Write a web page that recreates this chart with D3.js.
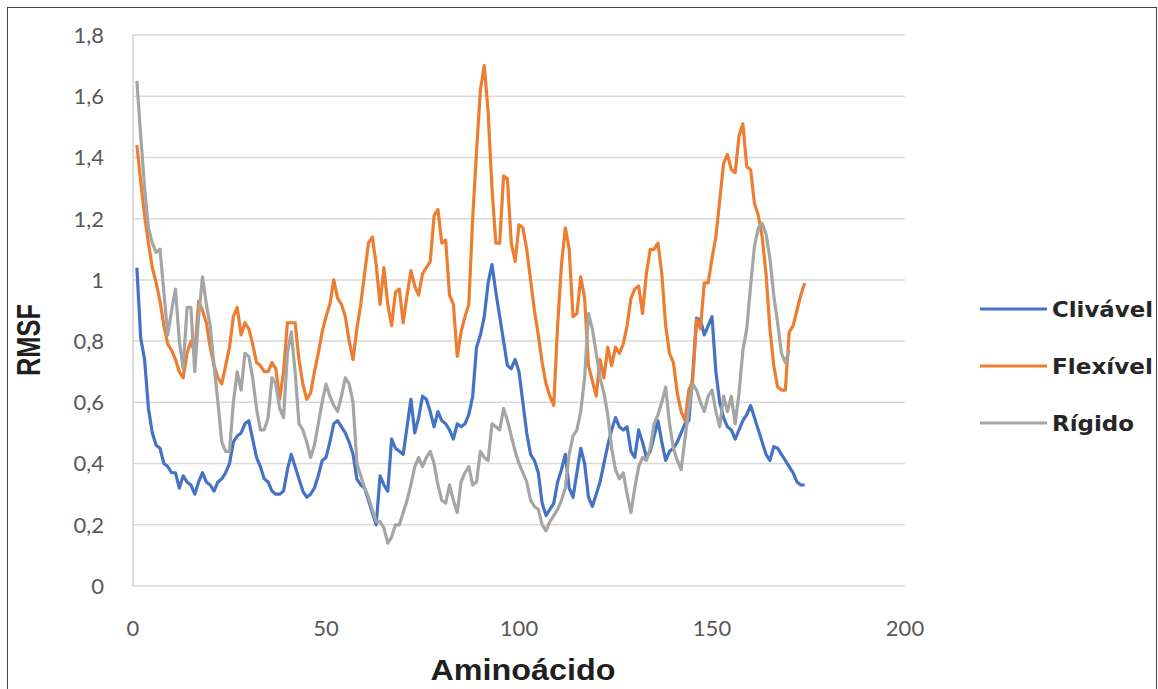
<!DOCTYPE html>
<html>
<head>
    <title>RMSF por aminoácido</title>
    <script src="https://d3js.org/d3.v7.min.js"></script>
    <style>
        body { margin: 0; background: #fff; }
        .tick-label { font-family: Lato, "Open Sans", sans-serif; font-size: 22px; fill: #595959; }
        .axis-title { font-family: "Liberation Sans Narrow", "Liberation Sans", sans-serif; font-weight: bold; fill: #1f1f1f; }
        .legend-label { font-family: "DejaVu Sans", sans-serif; font-weight: bold; font-size: 22px; fill: #262626; }
    </style>
</head>
<body>
    <div id="chart"></div>

    <script>
        // Tick labels
        const yTicks = [0, 0.2, 0.4, 0.6, 0.8, 1, 1.2, 1.4, 1.6, 1.8];
        const xTicks = [0, 50, 100, 150, 200];

        // Series names
        const seriesNames = ["Clivável", "Flexível", "Rígido"];

        // RMSF values per residue (residue 1..n)
        const clivavel = [
            1.04, 0.81, 0.74, 0.58, 0.50, 0.46, 0.45, 0.40, 0.39, 0.37,
            0.37, 0.32, 0.36, 0.34, 0.33, 0.30, 0.34, 0.37, 0.34, 0.33,
            0.31, 0.34, 0.35, 0.37, 0.40, 0.47, 0.49, 0.50, 0.53, 0.54,
            0.48, 0.42, 0.39, 0.35, 0.34, 0.31, 0.30, 0.30, 0.31, 0.38,
            0.43, 0.39, 0.35, 0.31, 0.29, 0.30, 0.32, 0.36, 0.41, 0.42,
            0.47, 0.53, 0.54, 0.52, 0.50, 0.47, 0.43, 0.35, 0.33, 0.32,
            0.28, 0.24, 0.20, 0.36, 0.33, 0.31, 0.48, 0.45, 0.44, 0.43,
            0.52, 0.61, 0.50, 0.55, 0.62, 0.61, 0.57, 0.52, 0.57, 0.54,
            0.53, 0.51, 0.48, 0.53, 0.52, 0.53, 0.56, 0.62, 0.78, 0.82,
            0.88, 0.99, 1.05, 0.96, 0.88, 0.80, 0.72, 0.71, 0.74, 0.70,
            0.60, 0.50, 0.43, 0.41, 0.37, 0.27, 0.23, 0.25, 0.27, 0.34,
            0.38, 0.43, 0.32, 0.29, 0.37, 0.45, 0.40, 0.29, 0.26, 0.30,
            0.34, 0.40, 0.46, 0.51, 0.55, 0.52, 0.51, 0.52, 0.44, 0.42,
            0.51, 0.47, 0.42, 0.44, 0.49, 0.54, 0.47, 0.41, 0.44, 0.45,
            0.47, 0.50, 0.53, 0.54, 0.69, 0.875, 0.87, 0.82, 0.85, 0.88,
            0.70, 0.60, 0.55, 0.52, 0.51, 0.48, 0.51, 0.54, 0.56, 0.59,
            0.55, 0.51, 0.47, 0.43, 0.41, 0.455, 0.45, 0.43, 0.41, 0.39,
            0.37, 0.34, 0.33, 0.33
        ];

        const flexivel = [
            1.44, 1.32, 1.21, 1.12, 1.04, 0.99, 0.93, 0.85, 0.79, 0.77,
            0.74, 0.70, 0.68, 0.76, 0.80, 0.76, 0.93, 0.90, 0.86, 0.78,
            0.72, 0.68, 0.66, 0.72, 0.78, 0.88, 0.91, 0.82, 0.86, 0.84,
            0.79, 0.73, 0.72, 0.70, 0.70, 0.73, 0.71, 0.61, 0.70, 0.86,
            0.86, 0.86, 0.74, 0.66, 0.61, 0.63, 0.70, 0.76, 0.83, 0.88,
            0.92, 1.00, 0.94, 0.92, 0.88, 0.80, 0.74, 0.84, 0.92, 1.02,
            1.12, 1.14, 1.05, 0.92, 1.04, 0.92, 0.85, 0.96, 0.97, 0.86,
            0.95, 1.03, 0.98, 0.95, 1.02, 1.04, 1.06, 1.21, 1.23, 1.12,
            1.13, 0.95, 0.92, 0.75, 0.83, 0.88, 0.92, 1.20, 1.42, 1.62,
            1.70, 1.55, 1.30, 1.12, 1.12, 1.34, 1.33, 1.12, 1.06, 1.18,
            1.17, 1.10, 1.00, 0.90, 0.82, 0.73, 0.66, 0.62, 0.59, 0.85,
            1.05, 1.17, 1.10, 0.88, 0.89, 1.01, 0.94, 0.72, 0.67, 0.62,
            0.74, 0.68, 0.78, 0.72, 0.78, 0.76, 0.79, 0.85, 0.94, 0.97,
            0.98, 0.89, 1.02, 1.10, 1.10, 1.12, 1.02, 0.85, 0.76, 0.73,
            0.63, 0.57, 0.54, 0.64, 0.67, 0.87, 0.84, 0.99, 0.99, 1.07,
            1.14, 1.26, 1.38, 1.41, 1.36, 1.35, 1.47, 1.51, 1.37, 1.36,
            1.25, 1.21, 1.14, 1.02, 0.84, 0.72, 0.65, 0.64, 0.64, 0.83,
            0.85, 0.90, 0.95, 0.99
        ];

        const rigido = [
            1.65, 1.47, 1.30, 1.17, 1.12, 1.09, 1.10, 0.96, 0.82, 0.90,
            0.97, 0.80, 0.71, 0.91, 0.91, 0.70, 0.88, 1.01, 0.92, 0.85,
            0.72, 0.60, 0.47, 0.44, 0.44, 0.60, 0.70, 0.64, 0.76, 0.75,
            0.68, 0.58, 0.51, 0.51, 0.55, 0.68, 0.66, 0.58, 0.55, 0.76,
            0.83, 0.70, 0.53, 0.51, 0.47, 0.42, 0.46, 0.53, 0.60, 0.66,
            0.62, 0.59, 0.57, 0.62, 0.68, 0.66, 0.60, 0.40, 0.36, 0.32,
            0.29, 0.25, 0.21, 0.21, 0.19, 0.14, 0.16, 0.20, 0.20, 0.24,
            0.28, 0.33, 0.39, 0.42, 0.39, 0.42, 0.44, 0.40, 0.33, 0.28,
            0.27, 0.33, 0.28, 0.24, 0.34, 0.37, 0.39, 0.33, 0.34, 0.44,
            0.42, 0.41, 0.53, 0.52, 0.51, 0.58, 0.54, 0.49, 0.44, 0.40,
            0.37, 0.34, 0.28, 0.26, 0.25, 0.20, 0.18, 0.21, 0.23, 0.25,
            0.28, 0.32, 0.43, 0.49, 0.51, 0.57, 0.68, 0.89, 0.84, 0.76,
            0.68, 0.63, 0.56, 0.45, 0.38, 0.35, 0.37, 0.30, 0.24, 0.32,
            0.39, 0.42, 0.41, 0.45, 0.53, 0.56, 0.60, 0.65, 0.53, 0.45,
            0.41, 0.38, 0.48, 0.58, 0.66, 0.64, 0.60, 0.57, 0.62, 0.64,
            0.57, 0.52, 0.62, 0.57, 0.62, 0.53, 0.63, 0.77, 0.84, 0.98,
            1.11, 1.17, 1.185, 1.15, 1.07, 0.95, 0.86, 0.76, 0.73, 0.77
        ];

        const colors = ["#4472C4", "#ED7D31", "#A5A5A5"];

        // Set up dimensions
        const width = 1158;
        const height = 689;
        const plot = { left: 133, right: 905, top: 35, bottom: 586 };

        const svg = d3.select("#chart")
            .append("svg")
            .attr("width", width)
            .attr("height", height);

        // Outer frame
        svg.append("rect")
            .attr("x", 7.5).attr("y", 7.5)
            .attr("width", 1149).attr("height", 700)
            .attr("fill", "none")
            .attr("stroke", "#444")
            .attr("stroke-width", 1);

        // Scales
        const x = d3.scaleLinear().domain([0, 200]).range([plot.left, plot.right]);
        const y = d3.scaleLinear().domain([0, 1.8]).range([plot.bottom, plot.top]);

        // Gridlines
        svg.append("g")
            .selectAll("line")
            .data(yTicks)
            .enter()
            .append("line")
            .attr("x1", plot.left)
            .attr("x2", plot.right)
            .attr("y1", d => y(d))
            .attr("y2", d => y(d))
            .attr("stroke", "#d9d9d9")
            .attr("stroke-width", 1.5);

        // Left axis line
        svg.append("line")
            .attr("x1", plot.left).attr("x2", plot.left)
            .attr("y1", plot.top).attr("y2", plot.bottom)
            .attr("stroke", "#d0d0d0")
            .attr("stroke-width", 1.5);

        // Y tick labels
        svg.append("g")
            .selectAll("text")
            .data(yTicks)
            .enter()
            .append("text")
            .attr("class", "tick-label")
            .attr("x", 104)
            .attr("y", d => y(d))
            .attr("dy", "0.36em")
            .attr("text-anchor", "end")
            .text(d => d3.format("~g")(d).replace(".", ","));

        // X tick labels
        svg.append("g")
            .selectAll("text")
            .data(xTicks)
            .enter()
            .append("text")
            .attr("class", "tick-label")
            .attr("x", d => x(d))
            .attr("y", 636)
            .attr("text-anchor", "middle")
            .text(d => d);

        // Lines
        const line = d3.line()
            .x((d, i) => x(i + 1))
            .y(d => y(d));

        [clivavel, flexivel, rigido].forEach(function(values, k) {
            svg.append("path")
                .datum(values)
                .attr("d", line)
                .attr("fill", "none")
                .attr("stroke", colors[k])
                .attr("stroke-width", 3.2)
                .attr("stroke-linejoin", "round");
        });

        // Axis titles
        svg.append("text")
            .attr("class", "axis-title")
            .attr("x", 523)
            .attr("y", 680)
            .attr("text-anchor", "middle")
            .attr("font-size", 29)
            .attr("textLength", 185)
            .attr("lengthAdjust", "spacingAndGlyphs")
            .text("Aminoácido");

        svg.append("text")
            .attr("class", "axis-title")
            .attr("transform", "translate(40,340) rotate(-90)")
            .attr("text-anchor", "middle")
            .attr("font-size", 34)
            .attr("textLength", 72)
            .attr("lengthAdjust", "spacingAndGlyphs")
            .text("RMSF");

        // Legend
        const legendY = [309, 366, 423];
        const legendW = [101, 101, 82];
        const legend = svg.append("g")
            .selectAll("g")
            .data(seriesNames)
            .enter()
            .append("g")
            .attr("transform", (d, i) => "translate(0," + legendY[i] + ")");

        legend.append("line")
            .attr("x1", 980).attr("x2", 1047)
            .attr("stroke", (d, i) => colors[i])
            .attr("stroke-width", 3.2);

        legend.append("text")
            .attr("class", "legend-label")
            .attr("x", 1052)
            .attr("dy", "0.36em")
            .attr("textLength", (d, i) => legendW[i])
            .attr("lengthAdjust", "spacingAndGlyphs")
            .text(d => d);
    </script>
</body>
</html>
